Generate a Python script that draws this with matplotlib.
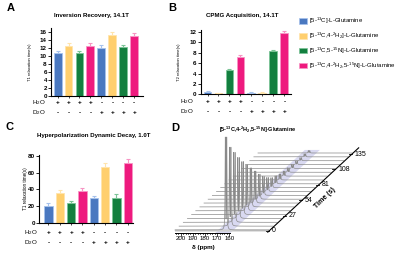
import matplotlib
matplotlib.use('Agg')
import matplotlib.pyplot as plt
import numpy as np
from matplotlib.patches import Polygon, Patch

plt.rcParams['font.family'] = ['Liberation Sans', 'DejaVu Sans']
plt.rcParams['mathtext.default'] = 'regular'

# ---------------- data ----------------
compounds = ['[5-$^{13}$C]-L-Glutamine',
             '[5-$^{13}$C,4-$^{2}$H$_2$]-L-Glutamine',
             '[5-$^{13}$C,5-$^{15}$N]-L-Glutamine',
             '[5-$^{13}$C,4-$^{2}$H$_2$,5-$^{15}$N]-L-Glutamine']
h2o_signs = ['+', '+', '+', '+', '-', '-', '-', '-']
d2o_signs = ['-', '-', '-', '-', '+', '+', '+', '+']

t1_14T = [10.7, 12.6, 10.7, 12.6, 12.1, 15.3, 12.2, 15.0]
t1_14T_err = [0.7, 0.7, 0.5, 0.7, 0.7, 0.8, 0.6, 0.8]
t2_14T = [0.35, 0.2, 4.7, 7.1, 0.3, 0.3, 8.4, 11.8]
t2_14T_err = [0.2, 0.05, 0.25, 0.5, 0.1, 0.05, 0.2, 0.4]
t1_1T = [20.4, 35.2, 23.2, 38.0, 29.2, 67.2, 30.0, 71.2]
t1_1T_err = [2.8, 3.6, 2.8, 3.2, 3.2, 4.0, 4.4, 5.2]

ppm_ticks = [200, 190, 180, 170, 160]
time_ticks = [0, 27, 54, 81, 108, 135]
spec_times = [0, 6.75, 13.5, 20.25, 27, 33.75, 40.5, 47.25, 54, 60.75, 67.5,
              74.25, 81, 87.75, 94.5, 101.25, 108, 114.75, 121.5, 128.25, 135]
peak_heights = [93, 79, 70, 61, 53, 46, 39, 32, 25, 19, 14, 10, 8, 6, 5, 4.5,
                4, 3.5, 3, 3, 2.5]
peak_ppm = 162.7

colors = ['#4a78c0', '#ffcf6e', '#137f3f', '#ee1a7e']
edges = ['#a6c2ec', '#ffe4ac', '#7cc497', '#f794c4']

W, H = 400, 263
fig = plt.figure(figsize=(4, 2.63), dpi=100)


def fx(px):
    return px / W


def fy(py):
    return 1 - py / H


def bar_panel(left, right, top, bottom, vals, errs, ylim, yticks, xlim,
              ylabel, ylab_x, ylab_fs, row_off, rowlab_x):
    ax = fig.add_axes([fx(left), fy(bottom), fx(right) - fx(left), fy(top) - fy(bottom)])
    x = np.arange(len(vals))
    for i in range(len(vals)):
        c = colors[i % 4]
        e = edges[i % 4]
        ax.bar(x[i], vals[i], width=0.72, color=c, edgecolor=e, linewidth=0.6, zorder=2)
        ax.errorbar(x[i], vals[i], yerr=[[0], [errs[i]]], ecolor=e, elinewidth=0.8,
                    capsize=1.6, capthick=0.8, zorder=3, fmt='none')
    ax.set_xlim(*xlim)
    ax.set_ylim(*ylim)
    ax.set_yticks(yticks)
    ax.set_xticks(x)
    ax.set_xticklabels([])
    for s in ['top', 'right']:
        ax.spines[s].set_visible(False)
    for s in ['left', 'bottom']:
        ax.spines[s].set_linewidth(0.8)
    ax.tick_params(axis='y', length=2, width=0.6, labelsize=4.5, pad=1)
    ax.tick_params(axis='x', length=1.5, width=0.5)
    for lab in ax.get_yticklabels():
        lab.set_fontweight('bold')
    ax.patch.set_alpha(0)
    fig.text(fx(ylab_x), (fy(top) + fy(bottom)) / 2, ylabel, rotation=90,
             ha='center', va='center', fontsize=ylab_fs)
    for xi in x:
        ax.annotate(h2o_signs[xi], xy=(xi, 0), xycoords=('data', 'axes fraction'),
                    xytext=(0, -row_off[0] * 72 / 100), textcoords='offset points',
                    ha='center', va='center', fontsize=4.5, fontweight='bold')
        ax.annotate(d2o_signs[xi], xy=(xi, 0), xycoords=('data', 'axes fraction'),
                    xytext=(0, -row_off[1] * 72 / 100), textcoords='offset points',
                    ha='center', va='center', fontsize=4.5, fontweight='bold')
    fig.text(fx(rowlab_x), fy(bottom + row_off[0]), 'H$_2$O', ha='center', va='center', fontsize=4.5)
    fig.text(fx(rowlab_x), fy(bottom + row_off[1]), 'D$_2$O', ha='center', va='center', fontsize=4.5)
    return ax


axA = bar_panel(51, 143, 28.3, 96, t1_14T, t1_14T_err, (0, 17), range(0, 17, 2),
                (-0.6, 7.8), 'T1 relaxation time(s)', 30.5, 3.0, (7, 17), 39)
axB = bar_panel(200.7, 291, 30, 94.3, t2_14T, t2_14T_err, (0, 12.4), range(0, 13, 2),
                (-0.62, 7.6), 'T2 relaxation time(s)', 179, 3.0, (7.4, 17.4), 187)
axC = bar_panel(39.3, 133, 155, 222.7, t1_1T, t1_1T_err, (0, 81), range(0, 81, 20),
                (-0.81, 7.46), 'T1 relaxation time(s)', 25, 3.3, (10.3, 19.6), 31)

# titles and panel letters
fig.text(fx(91), fy(16), 'Inversion Recovery, 14.1T', ha='center', va='center',
         fontsize=4.4, fontweight='bold')
fig.text(fx(242), fy(16), 'CPMG Acquisition, 14.1T', ha='center', va='center',
         fontsize=4.4, fontweight='bold')
fig.text(fx(94), fy(135.7), 'Hyperpolarization Dynamic Decay, 1.0T', ha='center',
         va='center', fontsize=4.4, fontweight='bold')
fig.text(fx(258), fy(130), '[5-$^{13}$C,4-$^{2}$H$_2$,5-$^{15}$N]-Glutamine', ha='center',
         va='center', fontsize=4.0, fontweight='bold')
for letter, (px, py) in zip('ABCD', [(11, 8), (172, 8), (9, 127), (175, 128)]):
    fig.text(fx(px), fy(py), letter, ha='center', va='center', fontsize=8, fontweight='bold')

# legend
handles = [Patch(facecolor=colors[k], edgecolor=edges[k], linewidth=0.5) for k in range(4)]
fig.legend(handles, compounds, loc='upper left', bbox_to_anchor=(fx(299), fy(16)),
           frameon=False, fontsize=4.3, handlelength=1.4, handleheight=1.1,
           handletextpad=0.35, labelspacing=0.75, borderaxespad=0, borderpad=0)

# ---------------- panel D: waterfall ----------------
axd = fig.add_axes([fx(170), fy(255), fx(370) - fx(170), fy(125) - fy(255)])
ppm_px = 1.215
axd.set_xlim(200 + 10.7 / ppm_px, 200 - 189.3 / ppm_px)
axd.set_ylim(0, 130)
axd.axis('off')
axd.patch.set_alpha(0)

dppm = 4.15 / ppm_px   # shift per spectrum (ppm)
dy = 3.85              # shift per spectrum (y units)
y0 = 25
step_t = spec_times[1] - spec_times[0]
ppm_lo, ppm_hi = 127.3, 204.7
grid = np.linspace(ppm_hi, ppm_lo, 4000)
hw = 0.22


def lor(x, c):
    return hw ** 2 / ((x - c) ** 2 + hw ** 2)


# lavender band under the peaks
ia, ib = -0.8, 20.8
bw = 6.2
band = Polygon([(peak_ppm + bw - dppm * ia, y0 + dy * ia),
                (peak_ppm - bw - dppm * ia, y0 + dy * ia),
                (peak_ppm - bw - dppm * ib, y0 + dy * ib),
                (peak_ppm + bw - dppm * ib, y0 + dy * ib)],
               closed=True, facecolor='#d3d3ef', edgecolor='none', alpha=0.85, zorder=1)
axd.add_patch(band)

for i in range(len(peak_heights) - 1, -1, -1):
    idx = spec_times[i] / step_t
    shape = peak_heights[i] * np.maximum(lor(grid, peak_ppm + 0.6), lor(grid, peak_ppm - 0.6))
    xs = grid - dppm * idx
    ys = y0 + dy * idx + shape
    if i == 0:
        axd.plot(xs, np.full_like(xs, y0 - 0.5), color='#cfcfcf', lw=1.6, zorder=2,
                 solid_capstyle='butt')
    axd.plot(xs, ys, color='#8a8a8a', lw=0.5, zorder=3)

# time axis
i_start, i_end = -0.3, 21.6
axd.plot([ppm_lo - dppm * i_start, ppm_lo - dppm * i_end],
         [y0 + dy * i_start - 1, y0 + dy * i_end - 1], color='black', lw=0.8, zorder=4)
for t in time_ticks:
    idx = t / step_t
    xa = ppm_lo - dppm * idx
    ya = y0 + dy * idx - 1
    axd.plot([xa + 2.5, xa], [ya, ya], color='black', lw=0.6, zorder=4)
    axd.text(xa - 2.2, ya, str(t), ha='left', va='center', fontsize=5)
axd.text(200 - 144.3 / ppm_px, 255 - 198, 'Time (s)', rotation=45, ha='center',
         va='center', fontsize=5, fontweight='bold')

# ppm axis
y_ax = 22
axd.plot([204.6, 159.4], [y_ax, y_ax], color='black', lw=0.7)
for p in range(160, 205, 2):
    ln = 2.5 if p in ppm_ticks else 1.4
    axd.plot([p, p], [y_ax, y_ax - ln], color='black', lw=0.5)
for p in ppm_ticks:
    axd.text(p, 16, str(p), ha='center', va='center', fontsize=4.4)
axd.text(200 - 22.3 / ppm_px, 7, 'δ (ppm)', ha='center', va='center', fontsize=4.5,
         fontweight='bold')

fig.savefig('out.png', dpi=100)
